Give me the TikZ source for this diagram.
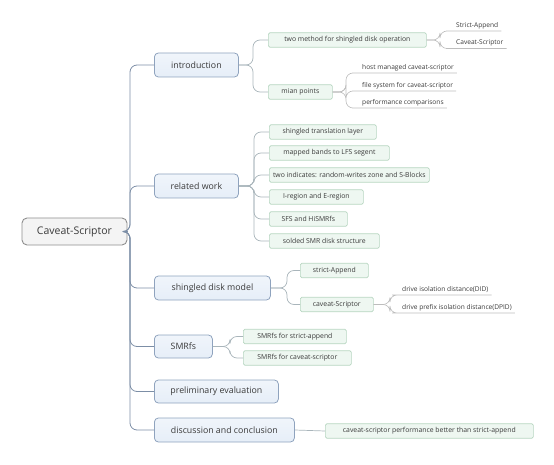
\documentclass[tikz,border=0pt]{standalone}
\usepackage{fontspec}
\setmainfont{Open Sans}
\definecolor{txt}{HTML}{3A3A3A}
\definecolor{rootfill}{HTML}{F4F4F4}
\definecolor{rootdraw}{HTML}{8E8E8E}
\definecolor{lonefill}{HTML}{E6EEF8}
\definecolor{lonedraw}{HTML}{8FA3BE}
\definecolor{ltwofill}{HTML}{EEF7F1}
\definecolor{ltwodraw}{HTML}{B7D6C1}
\definecolor{trunkc}{HTML}{7C8EA6}
\definecolor{branchc}{HTML}{A9B5BB}
\definecolor{leafc}{HTML}{BDBDBD}
\tikzset{
  rootbox/.style={draw=rootdraw, fill=rootfill, rounded corners=5pt, line width=0.9pt,
    minimum width=105pt, minimum height=27pt, inner sep=0pt, text=txt,
    font=\fontsize{10.5}{12}\selectfont},
  lonebox/.style={draw=lonedraw, top color=lonefill!60!white, bottom color=lonefill, rounded corners=4pt, line width=0.8pt,
    minimum height=24pt, inner sep=0pt, text=txt, anchor=west,
    font=\fontsize{8.8}{10}\selectfont},
  ltwobox/.style={draw=ltwodraw, fill=ltwofill, rounded corners=1.5pt, line width=0.7pt,
    minimum height=14.5pt, inner sep=0pt, text=txt, anchor=west,
    font=\fontsize{6.85}{8.5}\selectfont},
  leaf/.style={inner xsep=3pt, inner ysep=2pt, text=txt, anchor=south west,
    font=\fontsize{6.6}{8}\selectfont},
  trunkline/.style={draw=trunkc, line width=0.8pt, rounded corners=7pt},
  branchline/.style={draw=branchc, line width=0.7pt, rounded corners=7pt},
  leafline/.style={draw=leafc, line width=0.6pt, rounded corners=7pt},
}
\begin{document}
\begin{tikzpicture}[x=1pt,y=-1pt]
\useasboundingbox (0,0) rectangle (554,465);
% root
\node[rootbox] (root) at (74.5,231.5) {Caveat-Scriptor};
% level 1
\node[lonebox, minimum width=84pt]  (intro) at (154,65)  {introduction};
\node[lonebox, minimum width=84pt]  (rel)   at (154,186) {related work};
\node[lonebox, minimum width=116pt] (shd)   at (154,288) {shingled disk model};
\node[lonebox, minimum width=58pt, minimum height=23pt]  (smr)   at (154,346.5) {SMRfs};
\node[lonebox, minimum width=124pt, minimum height=23pt] (pre)   at (154,391.5) {preliminary evaluation};
\node[lonebox, minimum width=140pt] (dis)   at (154,430) {discussion and conclusion};
% level 2
\node[ltwobox, minimum width=158pt] (a1) at (268,40) {two method for shingled disk operation};
\node[ltwobox, minimum width=64pt]  (a2) at (268,92) {mian points};
\node[ltwobox, minimum width=107pt] (b1) at (269,132) {shingled translation layer};
\node[ltwobox, minimum width=120pt] (b2) at (269,153) {mapped bands to LFS segent};
\node[ltwobox, minimum width=160pt] (b3) at (269,175) {two indicates: random-writes zone and S-Blocks};
\node[ltwobox, minimum width=94pt]  (b4) at (269,197) {I-region and E-region};
\node[ltwobox, minimum width=78pt]  (b5) at (269,219) {SFS and HiSMRfs};
\node[ltwobox, minimum width=110pt] (b6) at (269,241) {solded SMR disk structure};
\node[ltwobox, minimum width=68pt]  (c1) at (300,270.5) {strict-Append};
\node[ltwobox, minimum width=73pt]  (c2) at (300,304.5) {caveat-Scriptor};
\node[ltwobox, minimum width=103pt] (d1) at (243,336.5) {SMRfs for strict-append};
\node[ltwobox, minimum width=108pt] (d2) at (243,358) {SMRfs for caveat-scriptor};
\node[ltwobox, minimum width=208pt] (f1) at (325,431) {caveat-scriptor performance better than strict-append};
% level 3 (underlined)
\node[leaf] (a11) at (453,31) {Strict-Append};
\node[leaf] (a12) at (453,48.5) {Caveat-Scriptor};
\node[leaf] (a21) at (359,73) {host managed caveat-scriptor};
\node[leaf] (a22) at (359,91) {file system for caveat-scriptor};
\node[leaf] (a23) at (359,108) {performance comparisons};
\node[leaf] (c21) at (399,295) {drive isolation distance(DID)};
\node[leaf] (c22) at (399,313) {drive prefix isolation distance(DPID)};
% split coordinates
\coordinate (tr) at (130,0);
\coordinate (sI) at (253,0);
\coordinate (sR) at (254,0);
\coordinate (sS) at (287,0);
\coordinate (sM) at (230,0);
\coordinate (sA1) at (440,0);
\coordinate (sA2) at (346,0);
\coordinate (sC2) at (390,0);
% trunk connectors
\foreach \n in {intro,rel,shd,smr,pre,dis}{
  \draw[trunkline] (root.east) -- (root.east -| tr) |- (\n.west);
}
% level-2 connectors
\foreach \c in {a1,a2}{ \draw[branchline] (intro.east) -- (intro.east -| sI) |- (\c.west); }
\foreach \c in {b1,b2,b3,b4,b5,b6}{ \draw[branchline] (rel.east) -- (rel.east -| sR) |- (\c.west); }
\foreach \c in {c1,c2}{ \draw[branchline] (shd.east) -- (shd.east -| sS) |- (\c.west); }
\foreach \c in {d1,d2}{ \draw[branchline] (smr.east) -- (smr.east -| sM) |- (\c.west); }
\draw[branchline] (dis.east) -- (f1.west);
% level-3 connectors with underline
\foreach \c in {a11,a12}{ \draw[leafline] (a1.east) -- (a1.east -| sA1) |- (\c.south west) -- (\c.south east); }
\foreach \c in {a21,a22,a23}{ \draw[leafline] (a2.east) -- (a2.east -| sA2) |- (\c.south west) -- (\c.south east); }
\foreach \c in {c21,c22}{ \draw[leafline] (c2.east) -- (c2.east -| sC2) |- (\c.south west) -- (\c.south east); }
\end{tikzpicture}
\end{document}
